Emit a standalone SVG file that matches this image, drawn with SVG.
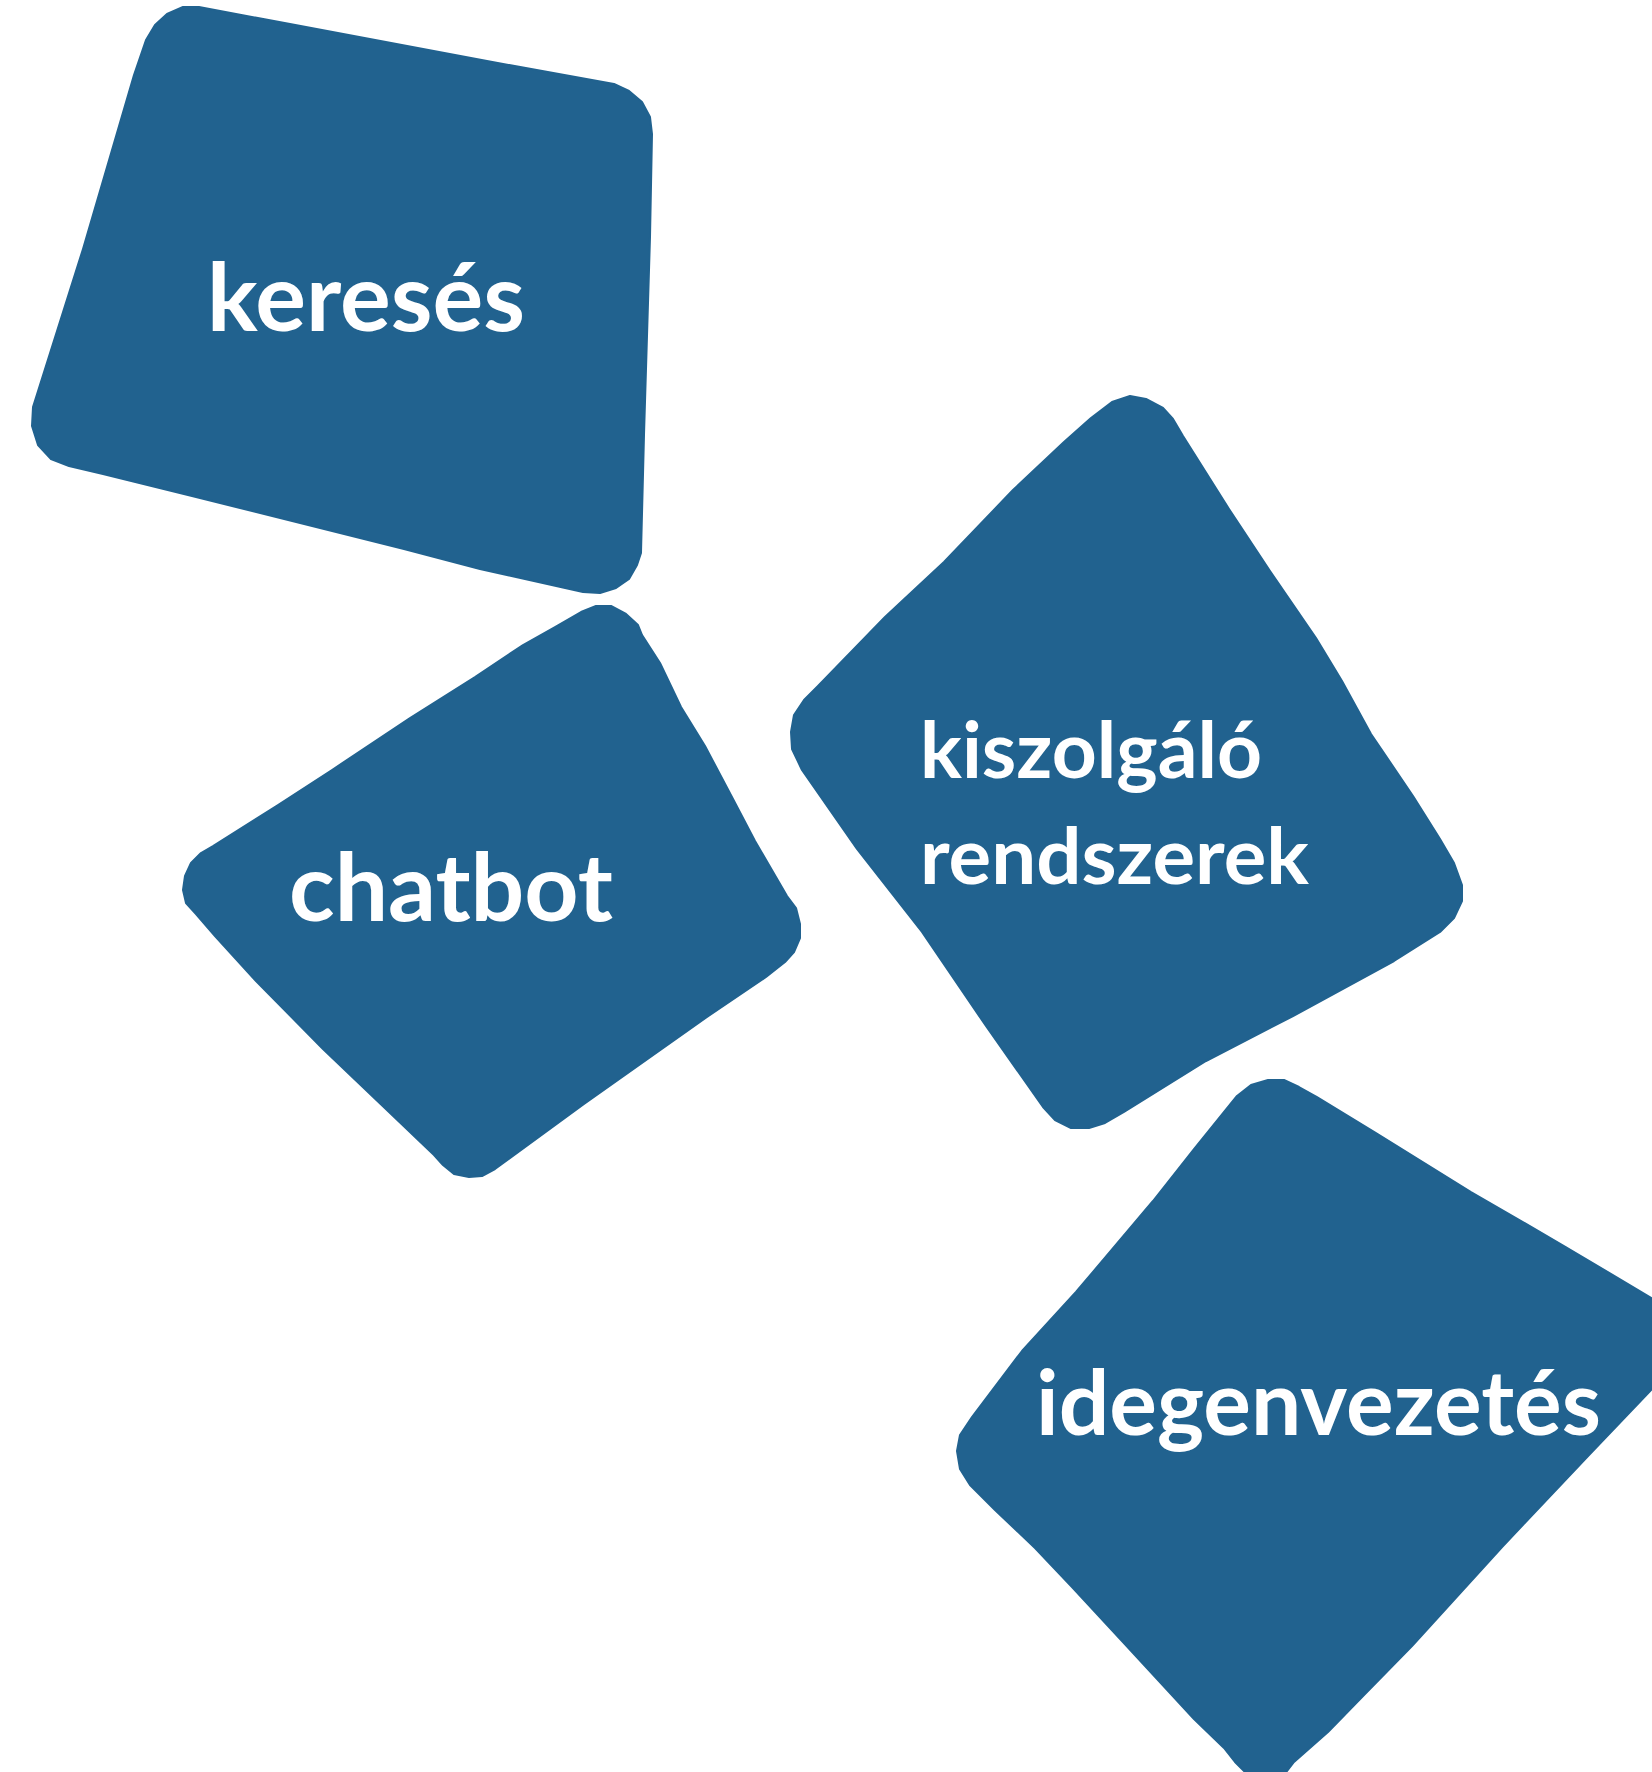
<svg xmlns="http://www.w3.org/2000/svg" width="1652" height="1772" viewBox="0 0 1652 1772">
<style>
.card{fill:#21628F;stroke:#21628F;stroke-width:2;stroke-linejoin:round}
.lbl{font-family:Lato,"Open Sans","Liberation Sans",sans-serif;font-weight:700;fill:#FFFFFF}
</style>
<rect width="1652" height="1772" fill="#FFFFFF"/>
<g id="connectors"/>
<g id="node-kereses">
<polygon class="card" points="183,7 199,7 290,24 487,61 614,84 629,91 642,102 650,117 652,134 650,237 644,435 641,553 637,565 629,579 616,588 600,593 583,592 480,569 404,549 192,496 103,474 69,466 51,459 38,445 32,426 33,407 83,249 134,75 146,40 155,25 167,14"/>
<text class="lbl" x="207" y="331" font-size="94" textLength="318" lengthAdjust="spacingAndGlyphs">keresés</text>
</g>
<g id="node-chatbot">
<polygon class="card" points="596,606 611,606 626,614 638,625 642,635 660,663 681,707 705,746 733,799 755,841 787,896 796,908 800,924 800,938 794,952 785,962 766,977 707,1017 584,1104 495,1169 482,1176 469,1177 454,1174 443,1165 434,1155 389,1112 323,1049 256,981 215,936 196,914 186,903 183,890 185,876 191,863 201,853 213,846 278,805 332,770 410,718 475,677 523,645 555,627 581,612"/>
<text class="lbl" x="289" y="921" font-size="94" textLength="324" lengthAdjust="spacingAndGlyphs">chatbot</text>
</g>
<g id="node-kiszolgalo">
<polygon class="card" points="1112,402 1130,396 1146,399 1163,408 1173,419 1183,436 1229,509 1270,571 1316,638 1342,681 1371,734 1413,796 1440,839 1454,863 1462,885 1462,901 1454,918 1440,932 1394,961 1293,1016 1206,1061 1124,1112 1105,1123 1089,1128 1071,1128 1055,1120 1043,1107 986,1026 922,932 857,849 802,770 792,749 791,732 794,715 804,700 818,686 885,617 944,562 1013,490 1064,442 1091,418"/>
<text class="lbl" x="920" y="778" font-size="78" textLength="342" lengthAdjust="spacingAndGlyphs">kiszolgáló</text>
<text class="lbl" x="920" y="884" font-size="78" textLength="389" lengthAdjust="spacingAndGlyphs">rendszerek</text>
</g>
<g id="node-idegenvezetes">
<polygon class="card" points="1237,1096 1251,1085 1268,1080 1284,1080 1299,1087 1317,1097 1376,1133 1471,1192 1564,1246 1680,1315 1700,1325 1712,1340 1705,1360 1652,1389 1589,1455 1503,1546 1412,1646 1365,1694 1328,1732 1294,1762 1280,1780 1255,1782 1235,1762 1224,1748 1194,1719 1122,1641 1072,1587 1035,1548 995,1510 970,1485 960,1469 957,1451 960,1435 972,1417 1022,1351 1076,1292 1153,1201 1194,1149"/>
<text class="lbl" x="1036" y="1435" font-size="89" textLength="565" lengthAdjust="spacingAndGlyphs">idegenvezetés</text>
</g>
</svg>
